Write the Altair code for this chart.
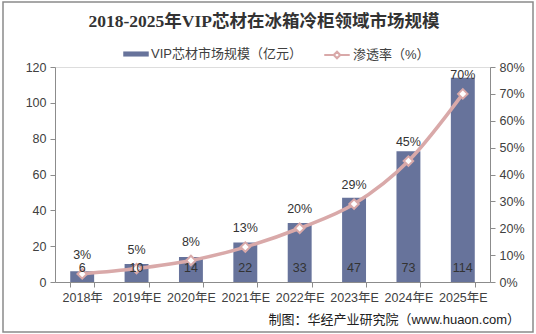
import altair as alt
import pandas as pd

years = ["2018年", "2019年E", "2020年E", "2021年E", "2022年E", "2023年E", "2024年E", "2025年E"]
market = [6, 10, 14, 22, 33, 47, 73, 114]
rate = [0.03, 0.05, 0.08, 0.13, 0.20, 0.29, 0.45, 0.70]
rate_labels = ["3%", "5%", "8%", "13%", "20%", "29%", "45%", "70%"]

TITLE = "2018-2025年VIP芯材在冰箱冷柜领域市场规模"
SOURCE = "制图：华经产业研究院（www.huaon.com）"
BAR_NAME = "VIP芯材市场规模（亿元）"
LINE_NAME = "渗透率（%）"
BAR_COLOR = "#67739b"
LINE_COLOR = "#d9a9a9"
FONT = "Liberation Sans, Noto Sans CJK SC"
TEXT_COLOR = "#404040"
AXIS_COLOR = "#8c8c8c"

df = pd.DataFrame({"year": years, "market": market, "rate": rate, "rate_label": rate_labels,
                   "bar_series": [BAR_NAME] * len(years), "line_series": [LINE_NAME] * len(years)})

base = alt.Chart(df)

x_axis = alt.Axis(labelAngle=0, tickBand="extent", tickSize=5, labelFontSize=12.5,
                  labelFont=FONT, labelColor=TEXT_COLOR, domainColor=AXIS_COLOR,
                  tickColor=AXIS_COLOR, labelPadding=4)
x_scale = alt.Scale(paddingInner=0.56, paddingOuter=0.28)


def xenc():
    return alt.X("year:N", sort=years, title=None, scale=x_scale, axis=x_axis)


left_axis = alt.Axis(values=[0, 20, 40, 60, 80, 100, 120], grid=False, tickSize=5,
                     labelFont=FONT, labelFontSize=12.5, labelColor=TEXT_COLOR,
                     domainColor=AXIS_COLOR, tickColor=AXIS_COLOR, labelPadding=4)
left_scale = alt.Scale(domain=[0, 120])
right_axis = alt.Axis(orient="right", format=".0%",
                      values=[0, 0.1, 0.2, 0.3, 0.4, 0.5, 0.6, 0.7, 0.8],
                      grid=False, tickSize=5, labelFont=FONT, labelFontSize=12.5,
                      labelColor=TEXT_COLOR, domainColor=AXIS_COLOR, tickColor=AXIS_COLOR,
                      labelPadding=4)
right_scale = alt.Scale(domain=[0, 0.8])

legend_common = dict(
    orient="none",
    direction="horizontal",
    title=None,
    labelFont=FONT,
    labelFontSize=13,
    labelColor=TEXT_COLOR,
    symbolSize=650,
    labelOffset=2,
    legendY=-26,
)

bar_legend = alt.Legend(legendX=68, symbolType="M-1,-0.2H1V0.2H-1Z",
                        symbolStrokeWidth=0, **legend_common)
line_legend = alt.Legend(legendX=268,
                         symbolType="M-1,0H-0.25M0.25,0H1M0,-0.25L0.25,0L0,0.25L-0.25,0Z",
                         symbolFillColor="white", symbolStrokeWidth=2.2, **legend_common)

bars = base.mark_bar(color=BAR_COLOR).encode(
    x=xenc(),
    y=alt.Y("market:Q", title=None, scale=left_scale, axis=left_axis),
    fill=alt.Fill("bar_series:N", scale=alt.Scale(domain=[BAR_NAME], range=[BAR_COLOR]),
                  legend=bar_legend),
)

line = base.mark_line(strokeWidth=3.5, interpolate="monotone").encode(
    x=xenc(),
    y=alt.Y("rate:Q", title=None, scale=right_scale, axis=right_axis),
    stroke=alt.Stroke("line_series:N", scale=alt.Scale(domain=[LINE_NAME], range=[LINE_COLOR]),
                      legend=line_legend),
)

points = base.mark_point(shape="diamond", filled=True, fill="white", stroke=LINE_COLOR,
                         strokeWidth=2, size=90, opacity=1).encode(
    x=xenc(),
    y=alt.Y("rate:Q", title=None, scale=right_scale, axis=right_axis),
)

rate_text = base.mark_text(font=FONT, fontSize=12.5, color="#333333", baseline="middle", dy=-19).encode(
    x=xenc(),
    y=alt.Y("rate:Q", title=None, scale=right_scale, axis=right_axis),
    text="rate_label:N",
)

right = alt.layer(line, points, rate_text)

bar_text = base.mark_text(font=FONT, fontSize=12.5, color="#333333", baseline="middle", dy=-14).encode(
    x=xenc(),
    y=alt.Y(datum=0, scale=left_scale, axis=None),
    text=alt.Text("market:Q"),
)

title = alt.Chart(pd.DataFrame({"t": [TITLE]})).mark_text(
    font="Liberation Serif, Noto Sans CJK SC", fontSize=17.5, fontWeight="bold",
    color="#333333", align="center", baseline="middle"
).encode(x=alt.value(209), y=alt.value(-45), text="t:N")

source = alt.Chart(pd.DataFrame({"t": [SOURCE]})).mark_text(
    font=FONT, fontSize=13, color="#202020", align="right", baseline="middle"
).encode(x=alt.value(465), y=alt.value(253), text="t:N")

border = alt.Chart(pd.DataFrame({"a": [0]})).mark_rect(
    fill=None, stroke="#8a8a8a", strokeWidth=1.5
).encode(x=alt.value(-52), x2=alt.value(478), y=alt.value(-65), y2=alt.value(265))

chart = alt.layer(bars, right, bar_text, title, source, border).resolve_scale(y="independent").properties(
    width=435,
    height=215,
    padding={"left": 55, "top": 67, "right": 46, "bottom": 52},
    autosize=alt.AutoSizeParams(type="none"),
).configure_view(stroke=None).configure(background="white")

chart.save("out.html", embed_options={"renderer": "svg", "actions": False})
